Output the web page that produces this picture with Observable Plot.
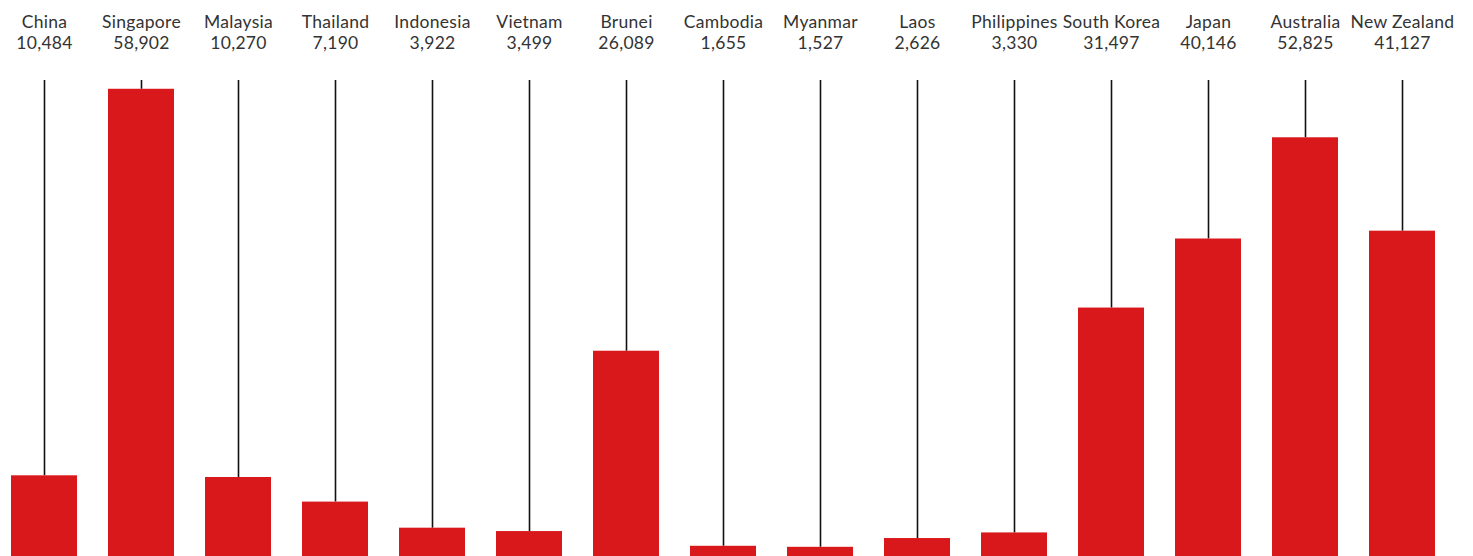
<!DOCTYPE html>
<html>
<head>
<meta charset="utf-8">
<script src="https://cdn.jsdelivr.net/npm/d3@7"></script>
<script src="https://cdn.jsdelivr.net/npm/@observablehq/plot@0.6"></script>
<style>
  html, body { margin: 0; padding: 0; background: #fff; overflow: hidden; }
  #chart svg { display: block; }
  #chart text { letter-spacing: 0.3px; }
</style>
</head>
<body>
<div id="chart"></div>
<script>
// GDP per capita by country
const countries = ["China", "Singapore", "Malaysia", "Thailand", "Indonesia", "Vietnam", "Brunei",
  "Cambodia", "Myanmar", "Laos", "Philippines", "South Korea", "Japan", "Australia", "New Zealand"];
const values = [10484, 58902, 10270, 7190, 3922, 3499, 26089, 1655, 1527, 2626, 3330, 31497, 40146, 52825, 41127];

const data = countries.map((country, i) => ({country, value: values[i]}));
const yTop = 60000;
const fmt = d3.format(",");

const chart = Plot.plot({
  width: 1473,
  height: 559,
  marginTop: 80,
  marginBottom: 0,
  marginLeft: 10,
  marginRight: 38,
  style: {fontFamily: "Lato, 'Noto Sans', sans-serif", background: "#fff"},
  x: {domain: countries, paddingInner: 0.32, paddingOuter: 0, axis: null},
  y: {domain: [0, yTop], axis: null},
  marks: [
    Plot.ruleX(data, {x: "country", y1: yTop, y2: "value", stroke: "#111", strokeWidth: 1.6}),
    Plot.barY(data, {x: "country", y: "value", fill: "#d8181a"}),
    Plot.text(data, {
      x: "country",
      text: d => `${d.country}\n${fmt(d.value)}`,
      frameAnchor: "top",
      lineAnchor: "bottom",
      lineHeight: 1.2,
      dy: -32,
      fontSize: 17.5,
      fill: "#333"
    })
  ]
});
document.getElementById("chart").append(chart);
</script>
</body>
</html>
